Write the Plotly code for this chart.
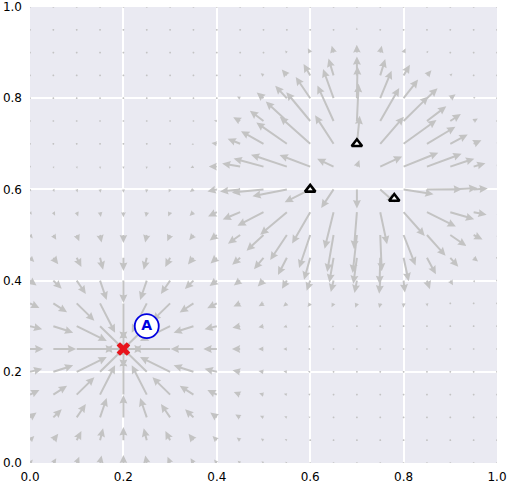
import numpy as np
import plotly.graph_objects as go

# ---- data ----
x_grid = [0.0, 0.05, 0.1, 0.15, 0.2, 0.25, 0.3, 0.35, 0.4, 0.45, 0.5,
          0.55, 0.6, 0.65, 0.7, 0.75, 0.8, 0.85, 0.9, 0.95, 1.0]
y_grid = [0.0, 0.05, 0.1, 0.15, 0.2, 0.25, 0.3, 0.35, 0.4, 0.45, 0.5,
          0.55, 0.6, 0.65, 0.7, 0.75, 0.8, 0.85, 0.9, 0.95, 1.0]
goal_x = [0.2]
goal_y = [0.25]
obstacle_x = [0.6, 0.7, 0.78]
obstacle_y = [0.6, 0.7, 0.58]
label_x = [0.25]
label_y = [0.30]
label_text = ["A"]
goal_strength = 3.9e-4
goal_soft = 0.11
obstacle_strength = 1.0
obstacle_sigma = 0.09
tick_vals = [0.0, 0.2, 0.4, 0.6, 0.8, 1.0]
tick_text = ["0.0", "0.2", "0.4", "0.6", "0.8", "1.0"]

# ---- layout constants ----
W, H = 510, 483
ML, MR, MT, MB = 30, 13, 7, 20
PX = W - ML - MR   # px per data unit, x
PY = H - MT - MB   # px per data unit, y

# ---- vector field ----
def field(px, py):
    u = 0.0
    v = 0.0
    for gx, gy in zip(goal_x, goal_y):
        dx, dy = gx - px, gy - py
        k = 1.0 / (dx * dx + dy * dy + goal_soft ** 2) ** 2
        u += goal_strength * dx * k
        v += goal_strength * dy * k
    for ox, oy in zip(obstacle_x, obstacle_y):
        dx, dy = px - ox, py - oy
        k = np.exp(-(dx * dx + dy * dy) / (2 * obstacle_sigma ** 2))
        u += obstacle_strength * dx * k
        v += obstacle_strength * dy * k
    return u, v

# arrow geometry (pixels)
SW = 2.0        # shaft width
HWm = 4.0       # head width multiple
HLm = 4.2       # head length multiple
HALm = 3.8      # head axis length multiple

def arrow_poly(x0, y0, u, v):
    up, vp = u * PX, v * PY
    L = np.hypot(up, vp)
    ang = np.arctan2(vp, up) if L > 1e-9 else 0.0
    if L < SW:
        t = np.linspace(0, 2 * np.pi, 7)
        xs = (SW / 2) * np.cos(t)
        ys = (SW / 2) * np.sin(t)
    else:
        Lb = max(L, HLm * SW)
        hs = SW / 2
        hh = HWm * SW / 2
        xs = np.array([0, Lb - HALm * SW, Lb - HLm * SW, Lb, Lb - HLm * SW, Lb - HALm * SW, 0, 0])
        ys = np.array([-hs, -hs, -hh, 0, hh, hs, hs, -hs])
        if L < HLm * SW:
            k = L / (HLm * SW)
            xs = xs * k
            ys = ys * k
        c, s = np.cos(ang), np.sin(ang)
        xs, ys = xs * c - ys * s, xs * s + ys * c
    return list(x0 + xs / PX), list(y0 + ys / PY)

ax_list, ay_list = [], []
for yy in y_grid:
    for xx in x_grid:
        u, v = field(xx, yy)
        px_, py_ = arrow_poly(xx, yy, u, v)
        ax_list += px_ + [None]
        ay_list += py_ + [None]

fig = go.Figure()
fig.add_trace(go.Scatter(x=ax_list, y=ay_list, mode="lines", fill="toself",
                         fillcolor="#c3c3c3", line=dict(width=0, color="#c3c3c3"),
                         hoverinfo="skip", showlegend=False))
fig.add_trace(go.Scatter(x=obstacle_x, y=obstacle_y, mode="markers",
                         marker=dict(symbol="triangle-up", size=9, color="white",
                                     line=dict(color="black", width=2.6)),
                         showlegend=False))
fig.add_trace(go.Scatter(x=goal_x, y=goal_y, mode="markers",
                         marker=dict(symbol="x", size=12, color="#e8141c",
                                     line=dict(width=0)),
                         showlegend=False))
fig.add_trace(go.Scatter(x=label_x, y=label_y, mode="markers+text",
                         text=["<b>%s</b>" % t for t in label_text],
                         textposition="middle center",
                         textfont=dict(family="DejaVu Sans", size=14, color="#0000e0"),
                         marker=dict(symbol="circle", size=24, color="white",
                                     line=dict(color="#0000e0", width=1.8)),
                         showlegend=False))

axis_common = dict(range=[0, 1], tickvals=tick_vals, ticktext=tick_text,
                   showgrid=True, gridcolor="white", gridwidth=1.5,
                   zeroline=False, showline=False, ticks="", automargin=False,
                   tickfont=dict(family="DejaVu Sans", size=12, color="black"))
fig.update_layout(
    width=W, height=H,
    margin=dict(l=ML, r=MR, t=MT, b=MB),
    paper_bgcolor="white", plot_bgcolor="#eaeaf2",
    xaxis=dict(**axis_common, ticklabelstandoff=5),
    yaxis=dict(**axis_common, ticklabelstandoff=7),
)
fig.write_html("out.html", config={"displayModeBar": False},
               post_script="document.body.style.margin='0';document.body.style.overflow='hidden';")
